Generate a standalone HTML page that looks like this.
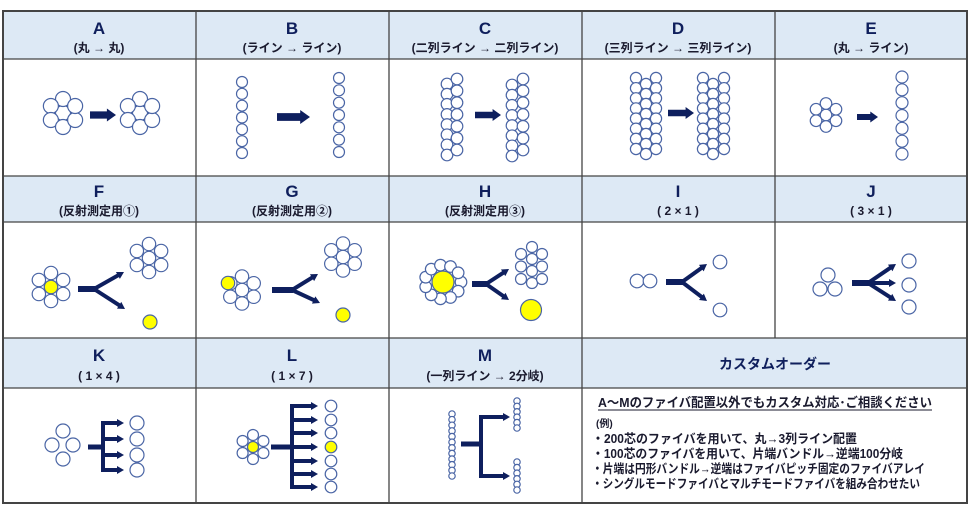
<!DOCTYPE html>
<html><head><meta charset="utf-8"><style>
html,body{margin:0;padding:0;background:#fff;width:973px;height:507px;overflow:hidden}
svg{display:block}
text{font-family:"Liberation Sans","Noto Sans CJK JP",sans-serif;font-weight:bold;fill:#1a1a2e}
.L{font-size:17px;fill:#0f1f5c}
.S{font-size:12px}
</style></head><body>
<svg id="s" width="973" height="507" viewBox="0 0 973 507" xmlns="http://www.w3.org/2000/svg">
<rect x="0" y="0" width="973" height="507" fill="#fff"/>
<g fill="#dde9f5">
<rect x="3" y="11" width="964" height="48"/>
<rect x="3" y="176" width="964" height="46"/>
<rect x="3" y="338" width="964" height="50"/>
</g>
<g stroke="#444" stroke-width="1.3" fill="none">
<rect x="3" y="11" width="964" height="492" stroke-width="2"/>
<line x1="3" y1="59" x2="967" y2="59"/><line x1="3" y1="176" x2="967" y2="176"/>
<line x1="3" y1="222" x2="967" y2="222"/><line x1="3" y1="338" x2="967" y2="338"/>
<line x1="3" y1="388" x2="967" y2="388"/>
<line x1="196" y1="11" x2="196" y2="503"/><line x1="389" y1="11" x2="389" y2="503"/>
<line x1="582" y1="11" x2="582" y2="503"/><line x1="775" y1="11" x2="775" y2="338"/>
</g>
<g text-anchor="middle">
<text class="L" x="99" y="34">A</text><text class="S" x="99" y="52">(丸 → 丸)</text>
<text class="L" x="292" y="34">B</text><text class="S" x="292" y="52">(ライン → ライン)</text>
<text class="L" x="485" y="34">C</text><text class="S" x="485" y="52">(二列ライン →  二列ライン)</text>
<text class="L" x="678" y="34">D</text><text class="S" x="678" y="52">(三列ライン →  三列ライン)</text>
<text class="L" x="871" y="34">E</text><text class="S" x="871" y="52">(丸 →  ライン)</text>
<text class="L" x="99" y="197">F</text><text class="S" x="99" y="215">(反射測定用①)</text>
<text class="L" x="292" y="197">G</text><text class="S" x="292" y="215">(反射測定用②)</text>
<text class="L" x="485" y="197">H</text><text class="S" x="485" y="215">(反射測定用③)</text>
<text class="L" x="678" y="197">I</text><text class="S" x="678" y="215">(  2  ×  1  )</text>
<text class="L" x="871" y="197">J</text><text class="S" x="871" y="215">(  3  ×  1  )</text>
<text class="L" x="99" y="361">K</text><text class="S" x="99" y="380">(  1  ×  4  )</text>
<text class="L" x="292" y="361">L</text><text class="S" x="292" y="380">(  1  ×  7  )</text>
<text class="L" x="485" y="361">M</text><text class="S" x="485" y="380">(一列ライン  →  2分岐)</text>
<text x="775" y="369" style="font-size:14px;fill:#0f1f5c">カスタムオーダー</text>
</g>
<text x="598" y="407" style="font-size:13px" textLength="334" lengthAdjust="spacingAndGlyphs">A～Mのファイバ配置以外でもカスタム対応･ご相談ください</text>
<line x1="598" y1="410" x2="932" y2="410" stroke="#1a1a2e" stroke-width="1"/>
<text x="596" y="427" style="font-size:10px">(例)</text>
<text x="592" y="443" style="font-size:12.5px" textLength="265" lengthAdjust="spacingAndGlyphs">・200芯のファイバを用いて、丸→3列ライン配置</text>
<text x="592" y="458" style="font-size:12.5px" textLength="311" lengthAdjust="spacingAndGlyphs">・100芯のファイバを用いて、片端バンドル→逆端100分岐</text>
<text x="592" y="473" style="font-size:12.5px" textLength="333" lengthAdjust="spacingAndGlyphs">・片端は円形バンドル→逆端はファイバピッチ固定のファイバアレイ</text>
<text x="592" y="488" style="font-size:12.5px" textLength="328" lengthAdjust="spacingAndGlyphs">・シングルモードファイバとマルチモードファイバを組み合わせたい</text>
<g id="g"></g>
</svg>
<script>
var g=document.getElementById('g'),NS='http://www.w3.org/2000/svg';
function el(t,a){var e=document.createElementNS(NS,t);for(var k in a)e.setAttribute(k,a[k]);g.appendChild(e);return e;}
function c(x,y,r,y2){el('circle',{cx:x,cy:y,r:r,fill:y2?'#ffff00':'#fff',stroke:'#4a65a5','stroke-width':1.2});}
function hex(x,y,d,r,yc){c(x,y,r,yc);for(var i=0;i<6;i++){var a=Math.PI/2+i*Math.PI/3;c(x+d*Math.cos(a),y-d*Math.sin(a),r);}}
function col(x,y1,y2,n,r){for(var i=0;i<n;i++)c(x,y1+(y2-y1)*i/(n-1),r);}
function bigArrow(x1,x2,y,h){var b=h*0.55,hw=h,hx=x2-h*0.7;el('polygon',{points:[x1,y-b/2,hx,y-b/2,hx,y-hw/2,x2,y,hx,y+hw/2,hx,y+b/2,x1,y+b/2].join(' '),fill:'#0e1f5e'});}
function ln(x1,y1,x2,y2,w){el('line',{x1:x1,y1:y1,x2:x2,y2:y2,stroke:'#0e1f5e','stroke-width':w||4});}
function arr(x1,y1,x2,y2,w){var dx=x2-x1,dy=y2-y1,L=Math.hypot(dx,dy),ux=dx/L,uy=dy/L,h=7;ln(x1,y1,x2-ux*h*0.6,y2-uy*h*0.6,w||4);
el('polygon',{points:[x2,y2,x2-ux*h-uy*4,y2-uy*h+ux*4,x2-ux*h+uy*4,y2-uy*h-ux*4].join(' '),fill:'#0e1f5e'});}
function split(x1,x2,y,targets){ln(x1,y,x2,y,6);targets.forEach(function(t){arr(x2-1,y,t[0],t[1],4);});}
// A
hex(63,113,14,7.5);bigArrow(90,116,115,13);hex(140,113,14,7.5);
// B
col(242,82,153,7,5.5);bigArrow(277,310,117,14);col(339,78,152,7,5.5);
// C
col(447,84,155,8,5.8);col(457,79,150,7,5.8);bigArrow(475,501,115,12);col(512,85,156,8,5.8);col(523,79,150,7,5.8);
// D
col(636,78,149,8,5.6);col(646,84,154,8,5.6);col(656,78,149,8,5.6);bigArrow(668,694,113,12);
col(703,78,149,8,5.6);col(713,84,154,8,5.6);col(724,78,149,8,5.6);
// E
hex(826,115,11.5,5.8);bigArrow(857,878,117,11);col(902,77,154,7,6);
// F
hex(51,287,14,6.7,0);c(51,287,6.7,1);split(78,95,289,[[124,272],[125,309]]);hex(149,258,14,6.7);c(150,322,7,1);
// G
hex(242,290,13.5,6.7);c(228,283,6.7,1);split(272,293,290,[[318,274],[320,303]]);hex(343,257,13.5,6.7);c(343,315,7,1);
// H
for(var i=0;i<11;i++){var a=i*2*Math.PI/11;c(443+18*Math.cos(a),282+17*Math.sin(a),5.8);}c(443,282,11,1);
split(472,487,284,[[509,269],[509,300]]);
col(521,254,279,3,5.5);col(532,247,283,4,5.5);col(542,254,279,3,5.5);c(531,310,10.5,1);
// I
c(637,281,6.8);c(650,281,6.8);split(666,683,282,[[707,264],[707,301]]);c(720,262,6.8);c(720,310,6.8);
// J
c(828,275,7);c(820,289,7);c(835,289,7);split(852,869,283,[[896,264],[896,283],[896,301]]);c(909,261,7);c(909,285,7);c(909,307,7);
// K
c(63,431,7);c(52,445,7);c(73,445,7);c(63,459,7);ln(88,447,105,447,5);ln(103,421,103,472,4);
[423,439,455,470].forEach(function(y){arr(103,y,124,y,4);c(137,y,7);});
// L
hex(253,447,12,5.5);c(253,447,5.5,1);ln(271,447,294,447,5);ln(292,404,292,489,4);
[406,420,433,447,461,474,487].forEach(function(y,i){arr(292,y,318,y,4);c(331,y,5.8,i==3);});
// M
col(452,414,476,12,3.2);ln(461,444,483,444,5);ln(481,415,481,478,4);arr(481,417,510,417,4);arr(481,476,510,476,4);
col(517,401,428,6,3.2);col(517,462,490,6,3.2);
</script>
</body></html>
